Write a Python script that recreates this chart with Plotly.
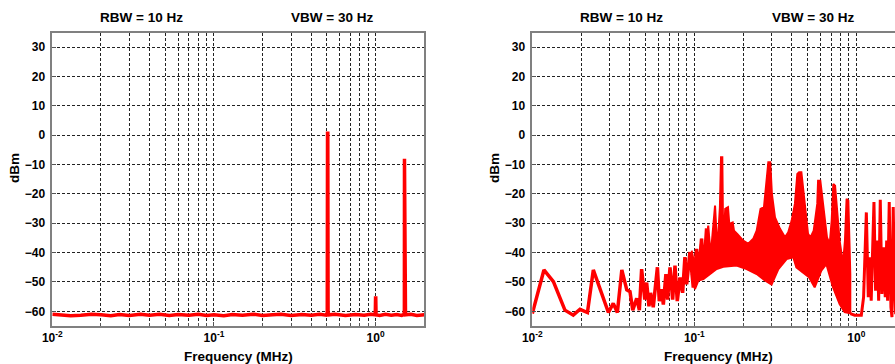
import math
import plotly.graph_objects as go

# ---------------- data ----------------
# Left panel: single-tone measurement (MHz, dBm)
freq_left = [0.0100, 0.0115, 0.0130, 0.0150, 0.0175, 0.0200, 0.0230, 0.0260, 0.0300, 0.0350,
             0.0400, 0.0460, 0.0530, 0.0600, 0.0700, 0.0800, 0.0900, 0.1000, 0.1150, 0.1300,
             0.1500, 0.1750, 0.2000, 0.2300, 0.2600, 0.3000, 0.3500, 0.4000, 0.4500, 0.4950,
             0.5020, 0.5040, 0.5060, 0.5080, 0.5150, 0.5600, 0.6500, 0.7500, 0.8500, 0.9300,
             0.9950, 0.9990, 1.0020, 1.0060, 1.0600, 1.1500, 1.2500, 1.3500, 1.4500, 1.5000,
             1.5060, 1.5080, 1.5100, 1.5140, 1.5200, 1.5300, 1.6500, 1.8000, 2.0000]
dbm_left = [-61.0, -61.4, -61.5, -61.3, -61.0, -61.2, -61.5, -61.1, -61.4, -61.0,
            -61.3, -61.0, -61.4, -61.1, -61.3, -61.0, -61.4, -61.2, -61.5, -61.1,
            -61.3, -61.0, -61.4, -61.2, -61.0, -61.4, -61.1, -61.3, -61.0, -61.3,
            -60.5, 0.7, 0.7, -60.5, -61.2, -61.0, -61.4, -61.1, -61.3, -61.0,
            -61.2, -55.5, -55.5, -61.2, -61.4, -61.0, -61.3, -61.1, -61.4, -61.0,
            -59.5, -8.0, -8.0, -59.0, -59.5, -61.2, -61.0, -61.4, -61.2]

# Right panel: sparse low-frequency part (line)
freq_right_low = [0.0100, 0.0118, 0.0135, 0.0159, 0.0179, 0.0197, 0.0219, 0.0238, 0.0295, 0.0316,
                  0.0335, 0.0357, 0.0383, 0.0401, 0.0417, 0.0441, 0.0458, 0.0473, 0.0495, 0.0508,
                  0.0525, 0.0537, 0.0558, 0.0592, 0.0608, 0.0628, 0.0644, 0.0668, 0.0684, 0.0708,
                  0.0735, 0.0760, 0.0785, 0.0817, 0.0847, 0.0875, 0.0897, 0.0940, 0.0986, 0.1033,
                  0.1059, 0.1109, 0.1138, 0.1191]
dbm_right_low = [-60.8, -45.9, -49.9, -59.6, -61.3, -59.3, -60.4, -45.9, -60.4, -57.3,
                 -60.4, -45.9, -52.7, -53.3, -59.6, -55.6, -59.6, -45.6, -56.0, -50.2,
                 -58.3, -53.7, -58.6, -45.0, -56.5, -52.5, -57.7, -47.3, -56.0, -45.0,
                 -56.0, -44.4, -56.5, -48.5, -53.7, -41.5, -50.8, -39.8, -51.9, -38.7,
                 -48.5, -35.2, -47.9, -31.7]

# Right panel: dense band, upper envelope
freq_band_up = [0.0964, 0.1009, 0.1059, 0.1109, 0.1148, 0.1219, 0.1262, 0.1343, 0.1387, 0.1439,
                0.1462, 0.1489, 0.1510, 0.1552, 0.1614, 0.1644, 0.1726, 0.1758, 0.1841, 0.2004,
                0.2153, 0.2312, 0.2427, 0.2564, 0.2692, 0.2767, 0.2864, 0.2944, 0.3013, 0.3148,
                0.3381, 0.3631, 0.3802, 0.3990, 0.4178, 0.4325, 0.4436, 0.4581, 0.4808, 0.5035,
                0.5212, 0.5458, 0.5741, 0.5808, 0.5998, 0.6383, 0.6592, 0.6855, 0.7047, 0.7211,
                0.7396, 0.7889, 0.8279, 0.8511, 0.8710, 0.8933, 0.9183]
dbm_band_up = [-39.3, -45.0, -43.9, -35.3, -42.7, -30.8, -41.0, -24.0, -39.3, -24.5,
               -7.5, -7.5, -39.3, -25.1, -24.5, -30.2, -29.7, -32.5, -33.6, -35.9,
               -37.0, -35.3, -32.5, -25.1, -24.5, -17.7, -9.2, -9.2, -20.0, -28.0,
               -31.9, -34.8, -33.1, -29.1, -23.4, -13.2, -12.6, -12.6, -24.5, -33.6,
               -34.8, -32.5, -23.4, -15.5, -15.5, -28.0, -34.8, -37.0, -29.1, -16.6,
               -17.2, -35.9, -43.9, -35.9, -21.7, -22.3, -47.3]

# Right panel: dense band, lower envelope
freq_band_lo = [0.0964, 0.1009, 0.1059, 0.1138, 0.1250, 0.1374, 0.1510, 0.1824, 0.2104, 0.2427,
                0.2729, 0.2999, 0.3304, 0.3715, 0.4083, 0.4266, 0.5105, 0.5534, 0.6081, 0.6531,
                0.7178, 0.7889, 0.8472, 0.9183]
dbm_band_lo = [-47.3, -52.4, -49.5, -49.0, -47.3, -45.6, -44.8, -44.4, -45.6, -47.3,
               -49.5, -50.9, -45.6, -42.2, -41.6, -45.0, -48.4, -51.8, -46.1, -43.9,
               -51.8, -57.5, -60.3, -60.7]

# Right panel: high-frequency part (line)
freq_right_high = [0.9183, 0.9772, 1.0740, 1.1092, 1.1535, 1.1858, 1.2078, 1.2359, 1.2853, 1.3152,
                   1.3459, 1.3740, 1.4060, 1.4390, 1.4730, 1.5090, 1.5400, 1.5600, 1.5970, 1.6360,
                   1.6600, 1.6900, 1.7200, 1.7500]
dbm_right_high = [-60.8, -61.3, -61.3, -55.2, -26.3, -55.2, -41.6, -56.4, -22.8, -53.0,
                  -35.9, -56.4, -22.0, -54.1, -38.2, -55.2, -35.9, -56.4, -22.8, -58.6,
                  -62.0, -24.5, -50.0, -61.0]

x_major = [0.01, 0.1, 1.0]
x_major_text = ["10<sup>-2</sup>", "10<sup>-1</sup>", "10<sup>0</sup>"]
x_minor = [0.02, 0.03, 0.04, 0.05, 0.06, 0.07, 0.08, 0.09,
           0.2, 0.3, 0.4, 0.5, 0.6, 0.7, 0.8, 0.9, 2.0]
y_ticks = [-60, -50, -40, -30, -20, -10, 0, 10, 20, 30]

titles_left = ["RBW = 10 Hz", "VBW = 30 Hz"]
x_label = "Frequency (MHz)"
y_label = "dBm"

# ---------------- layout ----------------
W, H = 895, 364
FONT = "Liberation Sans, Arial, sans-serif"
RED = "#ff0000"


def px(x):
    return x / W


def py(y):
    return 1 - y / H


plot_top, plot_bot = 32.5, 326.0
left_dom = [px(52.3), px(424.3)]
right_dom = [px(532.3), 1.0]
ydom = [py(plot_bot), py(plot_top)]

xr_left = [-2, math.log10(2.0)]
xr_right = [-2, -2 + (895 - 532.3) / 162.0]

fig = go.Figure()

fig.add_trace(go.Scatter(x=freq_left, y=dbm_left, mode="lines",
                         line=dict(color=RED, width=3.5), xaxis="x", yaxis="y",
                         hoverinfo="skip"))

band_x = freq_band_up + freq_band_lo[::-1]
band_y = dbm_band_up + dbm_band_lo[::-1]
fig.add_trace(go.Scatter(x=band_x, y=band_y, mode="lines", fill="toself",
                         fillcolor=RED, line=dict(color=RED, width=2),
                         xaxis="x2", yaxis="y2", hoverinfo="skip"))
fig.add_trace(go.Scatter(x=freq_right_low, y=dbm_right_low, mode="lines",
                         line=dict(color=RED, width=3.5), xaxis="x2", yaxis="y2",
                         hoverinfo="skip"))
fig.add_trace(go.Scatter(x=freq_right_high, y=dbm_right_high, mode="lines",
                         line=dict(color=RED, width=3), xaxis="x2", yaxis="y2",
                         hoverinfo="skip"))

TICKFONT = dict(family=FONT, size=12, color="black", weight="bold")
LABELFONT = dict(family=FONT, size=13.5, color="black", weight="bold")
GRID = dict(showgrid=True, gridcolor="#222", gridwidth=1, griddash="3px,2px")


def xaxis(dom, rng, anchor):
    return dict(domain=dom, type="log", range=rng, anchor=anchor,
                tickvals=x_major, ticktext=x_major_text, tickfont=TICKFONT,
                ticks="inside", ticklen=4, tickcolor="#555", tickwidth=1,
                minor=dict(tickvals=x_minor, ticks="inside", ticklen=3,
                           tickcolor="#555", tickwidth=1, **GRID),
                showline=True, linecolor="#808080", linewidth=1.5, mirror=True,
                zeroline=False, automargin=False, fixedrange=True, **GRID)


def yaxis(anchor, mirror):
    return dict(domain=ydom, range=[-65, 35], anchor=anchor,
                tickvals=y_ticks, tickfont=TICKFONT,
                ticks="inside", ticklen=4, tickcolor="#555", tickwidth=1,
                ticklabelstandoff=3,
                showline=True, linecolor="#808080", linewidth=1.5, mirror=mirror,
                zeroline=False, automargin=False, fixedrange=True, **GRID)


annotations = []
for cx in (141, 621):
    annotations.append(dict(text=titles_left[0], x=px(cx), y=py(17), xref="paper", yref="paper",
                            showarrow=False, xanchor="center", yanchor="middle", font=LABELFONT))
for cx in (332, 813):
    annotations.append(dict(text=titles_left[1], x=px(cx), y=py(17), xref="paper", yref="paper",
                            showarrow=False, xanchor="center", yanchor="middle", font=LABELFONT))
for cx in (238, 718):
    annotations.append(dict(text=x_label, x=px(cx), y=py(356), xref="paper", yref="paper",
                            showarrow=False, xanchor="center", yanchor="middle", font=LABELFONT))
for cx in (14, 494):
    annotations.append(dict(text=y_label, x=px(cx), y=py(168), xref="paper", yref="paper",
                            showarrow=False, xanchor="center", yanchor="middle", textangle=-90,
                            font=LABELFONT))

fig.update_layout(
    width=W, height=H,
    margin=dict(l=0, r=0, t=0, b=0),
    paper_bgcolor="white", plot_bgcolor="white",
    showlegend=False,
    xaxis=xaxis(left_dom, xr_left, "y"),
    yaxis=yaxis("x", True),
    xaxis2=xaxis(right_dom, xr_right, "y2"),
    yaxis2=yaxis("x2", False),
    annotations=annotations,
)

fig.write_html("out.html", config=dict(displayModeBar=False))
